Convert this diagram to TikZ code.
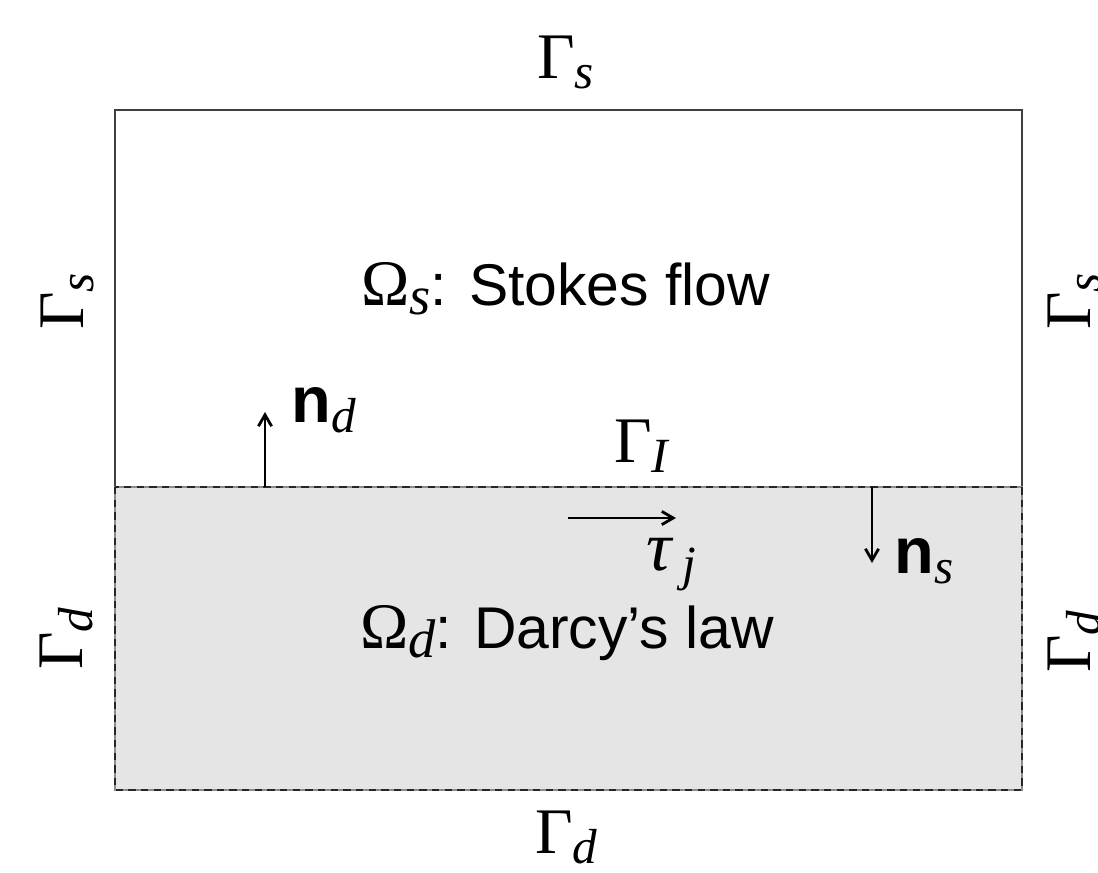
\documentclass[tikz,border=0pt]{standalone}
\usepackage{fontspec}
\setmainfont{Liberation Serif}
\setsansfont{Liberation Sans}
\usetikzlibrary{arrows.meta}
\newcommand{\mysub}[1]{\raisebox{-6.2pt}{\fontsize{28}{28}\selectfont\itshape #1}}
\newcommand{\mybigsub}[1]{\raisebox{-5.6pt}{\fontsize{31}{31}\selectfont\itshape #1}}
\newcommand{\bn}{{\sffamily\bfseries n}}
\tikzset{
  lbl/.style={font=\fontsize{37}{40}\selectfont, inner sep=0pt, anchor=base west},
  dom/.style={font=\fontsize{33.5}{38}\selectfont, inner sep=0pt, anchor=base west},
  vec/.style={line width=1.6pt, -{Straight Barb[length=6.5pt,width=7.5pt]}},
  wall/.style={draw=black!75, line width=1.3pt},
  porousbase/.style={draw=black!45, line width=0.9pt},
  porous/.style={draw=black!85, line width=1.4pt, dash pattern=on 4.2pt off 3pt},
}
\begin{document}
\begin{tikzpicture}[x=0.02cm,y=-0.02cm]
\useasboundingbox (0,0) rectangle (1098,872);
% regions
\fill[black!10] (115,487) rectangle (1022,790);
\draw[wall] (115,487) -- (115,110) -- (1022,110) -- (1022,487);
\draw[porousbase] (115,487) rectangle (1022,790);
\draw[porous] (115,487) rectangle (1022,790);
% coordinates for vectors
\coordinate (nd0) at (265,487);
\coordinate (nd1) at (265,412);
\coordinate (t0) at (568,518);
\coordinate (t1) at (676,518);
\coordinate (ns0) at (872,487);
\coordinate (ns1) at (872,563);
\draw[vec] (nd0) -- (nd1);
\draw[vec] (t0) -- (t1);
\draw[vec] (ns0) -- (ns1);
% boundary labels
\node[lbl] (gtop) at (537,78) {Γ\mysub{s}};
\node[lbl] (gbot) at (535,853) {Γ\mysub{d}};
\node[lbl, rotate=90] (gls) at (83,330) {Γ\mysub{s}};
\node[lbl, rotate=90] (gld) at (82,670) {Γ\mysub{d}};
\node[lbl, rotate=90] (grs) at (1090,330) {Γ\mysub{s}};
\node[lbl, rotate=90] (grd) at (1090,673) {Γ\mysub{d}};
\node[lbl] (gi) at (614,462) {Γ\mysub{I}};
% domain labels
\node[dom] (oms) at (361,305) {{\fontsize{37}{40}\selectfont Ω}\mybigsub{s}{\sffamily: Stokes flow}};
\node[dom] (omd) at (360,648) {{\fontsize{37}{40}\selectfont Ω}\mybigsub{d}{\sffamily: Darcy’s law}};
% vector labels
\node[lbl] (ndl) at (291,422) {\bn\mysub{d}};
\node[lbl] (nsl) at (894,573) {\bn\mysub{s}};
\node[lbl] (tj) at (646,570) {{\fontsize{40}{40}\selectfont\itshape τ}\hspace{6pt}\mysub{j}};
\end{tikzpicture}
\end{document}
